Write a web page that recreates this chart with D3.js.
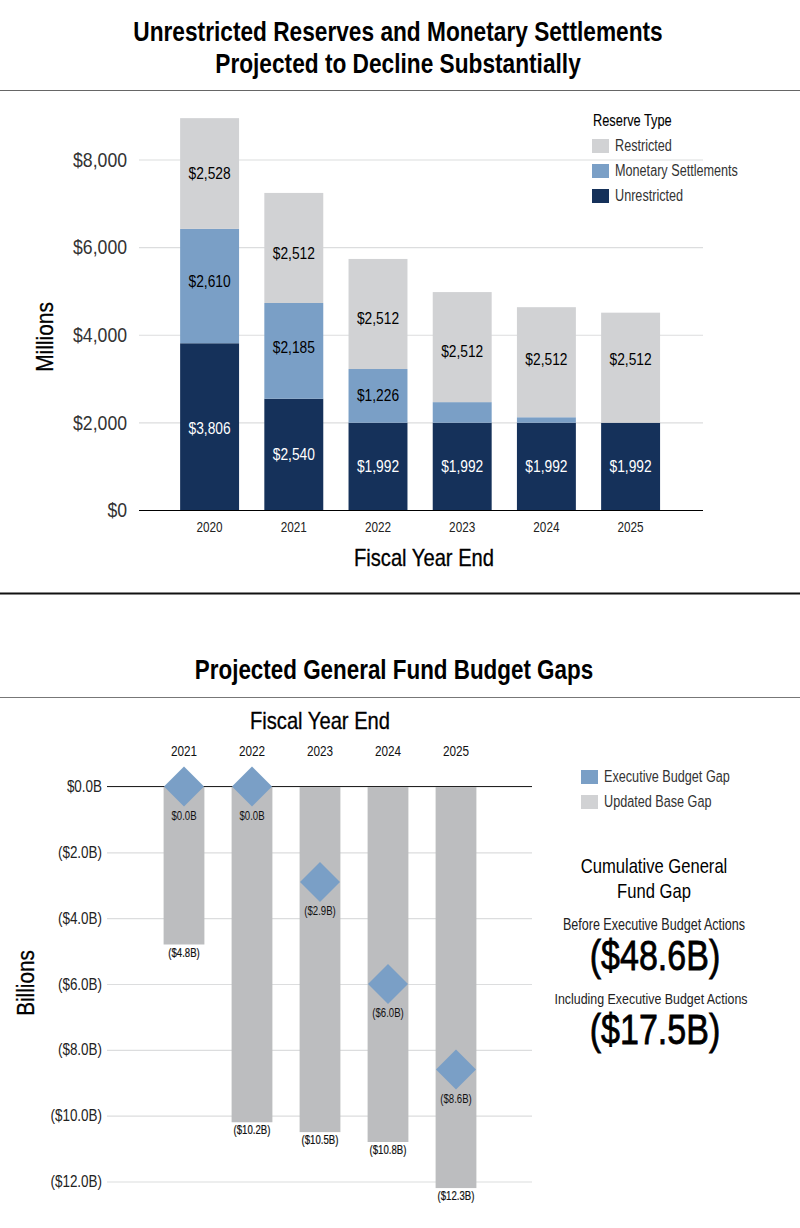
<!DOCTYPE html>
<html>
<head>
<meta charset="utf-8">
<script src="https://cdn.jsdelivr.net/npm/d3@7"></script>
<style>
  html, body { margin: 0; padding: 0; background: #fff; }
  svg { display: block; }
  text { font-family: "Liberation Sans", sans-serif; fill: #000; }
  .grid line { stroke: #dcddde; stroke-width: 1.2; }
  .grid path { display: none; }
</style>
</head>
<body>
<svg id="chart" width="800" height="1228"></svg>
<script>
var years = ["2020", "2021", "2022", "2023", "2024", "2025"];
var unrestricted = [3806, 2540, 1992, 1992, 1992, 1992];
var monetary = [2610, 2185, 1226, 470, 125, 0];
var restricted = [2528, 2512, 2512, 2512, 2512, 2512];
var reserveTicks = [0, 2000, 4000, 6000, 8000];
var reserveTypes = ["Restricted", "Monetary Settlements", "Unrestricted"];

var gapYears = ["2021", "2022", "2023", "2024", "2025"];
// bar lengths as drawn; the 2025 bar stops a little short of its printed value
var baseGap = [-4.8, -10.2, -10.5, -10.8, -12.2];
var baseGapLabels = ["($4.8B)", "($10.2B)", "($10.5B)", "($10.8B)", "($12.3B)"];
var execGap = [0, 0, -2.9, -6.0, -8.6];
var gapTicks = [0, -2, -4, -6, -8, -10, -12];
var gapTypes = ["Executive Budget Gap", "Updated Base Gap"];

var colors = {navy: "#15315a", blue: "#7a9fc6", light: "#d1d2d4", bar: "#bcbdbf"};

var svg = d3.select("#chart");

// no condensed face is installed, so every text gets squeezed to this share of its width
function squeeze(sel, factor) {
  sel.each(function() {
    var len = this.getComputedTextLength();
    d3.select(this)
      .attr("textLength", len * factor)
      .attr("lengthAdjust", "spacingAndGlyphs");
  });
  return sel;
}

function label(x, y, str, size, opts) {
  opts = opts || {};
  var t = svg.append("text")
    .attr("x", x)
    .attr("y", y)
    .attr("text-anchor", opts.anchor || "middle")
    .attr("font-size", size)
    .attr("font-weight", opts.weight || "normal")
    .style("fill", opts.fill || "#000")
    .text(str);
  if (opts.heavy) t.style("stroke", opts.fill || "#000").style("stroke-width", opts.heavy);
  return squeeze(t, opts.squeeze || 0.82);
}

function rule(y, color, width) {
  svg.append("line")
    .attr("x1", 0).attr("x2", 800)
    .attr("y1", y).attr("y2", y)
    .attr("stroke", color)
    .attr("stroke-width", width);
}

function gapFormat(v) {
  var s = "$" + Math.abs(v).toFixed(1) + "B";
  return v < 0 ? "(" + s + ")" : s;
}

// page titles and rules
label(398, 41, "Unrestricted Reserves and Monetary Settlements", 28, {weight: "bold", squeeze: 0.81});
label(398, 73, "Projected to Decline Substantially", 28, {weight: "bold", squeeze: 0.81});
rule(90.5, "#666", 1);
rule(593.5, "#111", 2);
label(394, 679, "Projected General Fund Budget Gaps", 28, {weight: "bold", squeeze: 0.8});
rule(697.5, "#777", 1);

// reserves chart
var x1 = d3.scaleBand().domain(years).range([167.5, 672.7]).paddingInner(0.3).paddingOuter(0.15);
var y1 = d3.scaleLinear().domain([0, 8000]).range([510, 159.5]);

var axis1 = svg.append("g")
  .attr("class", "grid")
  .attr("transform", "translate(139,0)")
  .call(d3.axisLeft(y1).tickValues(reserveTicks).tickSize(-564).tickPadding(12).tickFormat(function(d) { return "$" + d3.format(",")(d); }));
axis1.selectAll("text").attr("font-size", 21).style("fill", "#333").call(squeeze, 0.84);
axis1.select(".tick line").style("stroke", "#000").style("stroke-width", 1.2);

// the restricted labels do not sit quite in the middle of their segments
var restrictedNudge = [0, 6, 5, 4, -3, -8];
var monetaryNudge = [-5, -3, 0, 0, 0, 0];
var unrestrictedNudge = [2, 0, 0, 0, 0, 0];

var stack1 = years.map(function(year, i) {
  return {year: year, parts: [
    {value: unrestricted[i], fill: colors.navy, text: "#fff", nudge: unrestrictedNudge[i]},
    {value: monetary[i], fill: colors.blue, text: "#000", nudge: monetaryNudge[i]},
    {value: restricted[i], fill: colors.light, text: "#000", nudge: restrictedNudge[i]}
  ]};
});

stack1.forEach(function(d) {
  var base = 0;
  d.parts.forEach(function(p) {
    p.y0 = base;
    p.y1 = base + p.value;
    base = p.y1;
    svg.append("rect")
      .attr("x", x1(d.year))
      .attr("width", x1.bandwidth())
      .attr("y", y1(p.y1))
      .attr("height", y1(p.y0) - y1(p.y1))
      .attr("fill", p.fill);
    // the two thin settlement slices carry no label
    if (p.value >= 1000) {
      label(x1(d.year) + x1.bandwidth() / 2, y1((p.y0 + p.y1) / 2) + 5.5 + p.nudge, "$" + d3.format(",")(p.value), 16, {fill: p.text, squeeze: 0.86});
    }
  });
  label(x1(d.year) + x1.bandwidth() / 2, 532, d.year, 14, {fill: "#222", squeeze: 0.84});
});

label(424, 566, "Fiscal Year End", 24, {squeeze: 0.84, heavy: 0.3});
var millions = svg.append("text")
  .attr("transform", "translate(53,337) rotate(-90)")
  .attr("text-anchor", "middle")
  .attr("font-size", 24)
  .style("stroke", "#000")
  .style("stroke-width", 0.3)
  .text("Millions");
squeeze(millions, 0.87);

label(593, 126, "Reserve Type", 16, {anchor: "start", squeeze: 0.8, heavy: 0.1});
var legend1Fill = [colors.light, colors.blue, colors.navy];
reserveTypes.forEach(function(name, i) {
  svg.append("rect").attr("x", 592).attr("y", 139 + i * 25).attr("width", 17).attr("height", 14).attr("fill", legend1Fill[i]);
  label(615, 151 + i * 25, name, 16, {anchor: "start", fill: "#333", squeeze: 0.79});
});

// budget gap chart
var x2 = d3.scaleBand().domain(gapYears).range([150, 490]).paddingInner(0.4).paddingOuter(0.2);
var y2 = d3.scaleLinear().domain([0, -12]).range([786.5, 1181.5]);

var axis2 = svg.append("g")
  .attr("class", "grid")
  .attr("transform", "translate(107,0)")
  .call(d3.axisLeft(y2).tickValues(gapTicks).tickSize(-425).tickPadding(5).tickFormat(gapFormat));
axis2.selectAll("text").attr("font-size", 16).style("fill", "#222").call(squeeze, 0.84);

gapYears.forEach(function(year, i) {
  var cx = x2(year) + x2.bandwidth() / 2;
  svg.append("rect")
    .attr("x", x2(year))
    .attr("width", x2.bandwidth())
    .attr("y", y2(0))
    .attr("height", y2(baseGap[i]) - y2(0))
    .attr("fill", colors.bar);
  label(cx, 756, year, 14, {fill: "#111", squeeze: 0.84});
  label(cx, y2(baseGap[i]) + 12, baseGapLabels[i], 12, {fill: "#111", squeeze: 0.8, heavy: 0.2});
});

svg.append("line")
  .attr("x1", 107).attr("x2", 532)
  .attr("y1", y2(0)).attr("y2", y2(0))
  .attr("stroke", "#222").attr("stroke-width", 1.2);

gapYears.forEach(function(year, i) {
  var cx = x2(year) + x2.bandwidth() / 2;
  var cy = y2(execGap[i]);
  svg.append("path")
    .attr("d", d3.symbol(d3.symbolSquare, 800))
    .attr("transform", "translate(" + cx + "," + cy + ") rotate(45)")
    .attr("fill", colors.blue);
  label(cx, cy + 33, gapFormat(execGap[i]), 12, {fill: "#111", squeeze: 0.8});
});

label(320, 729, "Fiscal Year End", 24, {squeeze: 0.84, heavy: 0.3});
var billions = svg.append("text")
  .attr("transform", "translate(34,983) rotate(-90)")
  .attr("text-anchor", "middle")
  .attr("font-size", 23)
  .style("stroke", "#000")
  .style("stroke-width", 0.3)
  .text("Billions");
squeeze(billions, 0.9);

var legend2Fill = [colors.blue, colors.light];
gapTypes.forEach(function(name, i) {
  svg.append("rect").attr("x", 581).attr("y", 770 + i * 25).attr("width", 17).attr("height", 14).attr("fill", legend2Fill[i]);
  label(604, 782 + i * 25, name, 16, {anchor: "start", fill: "#333", squeeze: 0.79});
});

// cumulative gap callout
label(654, 873, "Cumulative General", 21, {squeeze: 0.79});
label(654, 898, "Fund Gap", 21, {squeeze: 0.79});
label(654, 930, "Before Executive Budget Actions", 16, {fill: "#222", squeeze: 0.785});
label(655, 970, "($48.6B)", 42, {squeeze: 0.81, heavy: 0.8});
label(651, 1004, "Including Executive Budget Actions", 15.5, {fill: "#222", squeeze: 0.8});
label(655, 1044, "($17.5B)", 42, {squeeze: 0.81, heavy: 0.8});
</script>
</body>
</html>
